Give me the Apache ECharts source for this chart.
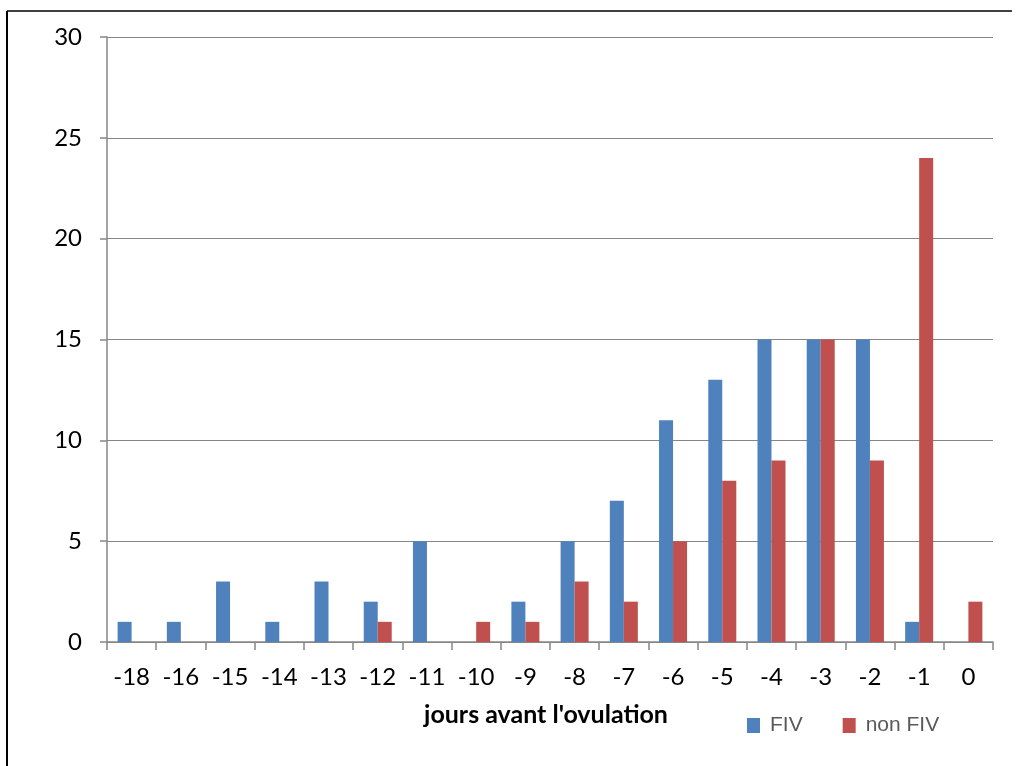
<!DOCTYPE html>
<html>
<head>
<meta charset="utf-8">
<script src="https://cdn.jsdelivr.net/npm/echarts@6/dist/echarts.min.js"></script>
<style>html,body{margin:0;padding:0;background:#fff}#c{width:1022px;height:766px}</style>
</head>
<body>
<div id="c"></div>
<script>
var categories = ['-18','-16','-15','-14','-13','-12','-11','-10','-9','-8','-7','-6','-5','-4','-3','-2','-1','0'];
var fivValues = [1,1,3,1,3,2,5,0,2,5,7,11,13,15,15,15,1,0];
var nonFivValues = [0,0,0,0,0,1,0,1,1,3,2,5,8,9,15,9,24,2];
var yTicks = {min:0, max:30, interval:5};

var font = 'Lato, "Open Sans", sans-serif';
var chart = echarts.init(document.getElementById('c'), null, {renderer:'canvas'});
chart.setOption({
  animation:false,
  backgroundColor:'#fff',
  grid:{left:107, right:29, top:37, bottom:124, containLabel:false},
  legend:{
    left:742, top:710, itemWidth:13, itemHeight:15, itemGap:40,
    icon:'rect',
    textStyle:{fontFamily:'"Liberation Sans", Arial, sans-serif', fontSize:21, color:'#595959', padding:[0,0,0,5]},
    data:['FIV','non FIV']
  },
  xAxis:{
    type:'category', data:categories,
    name:"jours avant l'ovulation", nameLocation:'middle', nameGap:60,
    nameTextStyle:{fontFamily:font, fontSize:25, fontWeight:'bold', color:'#000', padding:[0,0,0,-8]},
    axisLine:{lineStyle:{color:'#868686', width:1.5}},
    axisTick:{show:true, length:8, alignWithLabel:false, lineStyle:{color:'#868686', width:1.5}},
    axisLabel:{fontFamily:font, fontSize:24, color:'#000', margin:23},
    splitLine:{show:false}
  },
  yAxis:{
    type:'value', min:yTicks.min, max:yTicks.max, interval:yTicks.interval,
    axisLine:{show:true, lineStyle:{color:'#868686', width:1.5}},
    axisTick:{show:true, length:7, lineStyle:{color:'#868686', width:1.5}},
    axisLabel:{fontFamily:font, fontSize:24, color:'#000', margin:25},
    splitLine:{lineStyle:{color:'#868686', width:1.2}}
  },
  series:[
    {name:'FIV', type:'bar', data:fivValues, barWidth:14, barGap:'0%', itemStyle:{color:'#4F81BD'}},
    {name:'non FIV', type:'bar', data:nonFivValues, barWidth:14, barGap:'0%', itemStyle:{color:'#C0504D'}}
  ],
  graphic:[
    {type:'line', shape:{x1:7, y1:11, x2:7, y2:766}, style:{stroke:'#000', lineWidth:2}},
    {type:'line', shape:{x1:7, y1:11, x2:1012, y2:11}, style:{stroke:'#000', lineWidth:1.5}}
  ]
});
</script>
</body>
</html>
